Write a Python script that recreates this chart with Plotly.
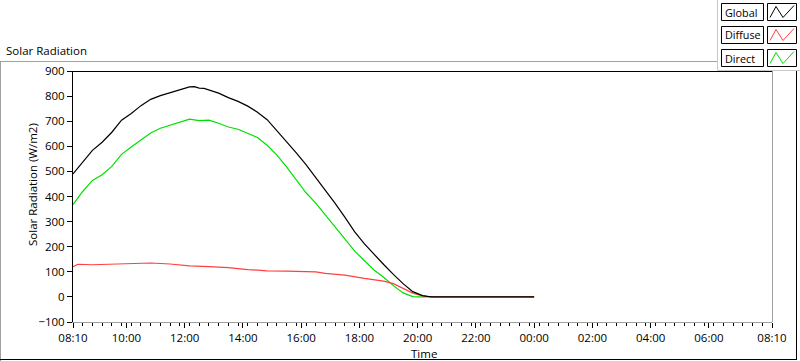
import plotly.graph_objects as go

# ---------------- data ----------------
global_times = ["08:10","08:30","08:50","09:10","09:30","09:50","10:10","10:30","10:50",
                "11:10","11:30","11:50","12:10","12:20","12:30","12:40","12:50","13:10",
                "13:30","13:50","14:10","14:30","14:50","15:10","15:30","15:50","16:10",
                "16:30","16:50","17:10","17:30","17:50","18:10","18:30","18:50","19:10",
                "19:30","19:50","20:10","20:20","20:30","00:00"]
global_vals = [490, 535, 584, 616, 656, 704, 731, 762, 787,
               802, 814, 828, 837, 838, 832, 831, 825, 812,
               794, 779, 760, 736, 706, 663, 619, 574, 527,
               476, 422, 373, 318, 260, 212, 169, 129, 90,
               53, 21, 5, 2, 0, 0]

direct_times = ["08:10","08:30","08:50","09:10","09:30","09:50","10:10","10:30","10:50",
                "11:10","11:30","11:50","12:10","12:30","12:50","13:10","13:30","13:50",
                "14:10","14:30","14:50","15:10","15:30","15:50","16:10","16:30","16:50",
                "17:10","17:30","17:50","18:10","18:30","18:50","19:10","19:30","19:50",
                "20:00","00:00"]
direct_vals = [368, 420, 464, 487, 520, 568, 597, 626, 653,
               672, 685, 698, 708, 702, 704, 692, 677, 668,
               653, 635, 604, 565, 518, 468, 415, 374, 326,
               278, 232, 183, 145, 107, 78, 45, 16, 1,
               0, 0]

diffuse_times = ["08:10","08:20","08:50","09:30","10:10","10:50","11:30","12:10","12:50",
                 "13:30","14:10","14:50","15:30","16:10","16:30","16:50","17:30","18:10",
                 "18:50","19:10","19:30","19:50","20:10","20:30","00:00"]
diffuse_vals = [120, 130, 128, 130, 133, 135, 131, 124, 121,
                117, 109, 104, 103, 101, 100, 94, 87, 74,
                63, 53, 35, 15, 4, 0, 0]

tick_labels = ["08:10","10:00","12:00","14:00","16:00","18:00","20:00","22:00",
               "00:00","02:00","04:00","06:00","08:10"]

title_text = "Solar Radiation"
y_title = "Solar Radiation (W/m2)"
x_title = "Time"
series_names = ["Global", "Diffuse", "Direct"]
series_colors = ["#000000", "#ff4040", "#00e000"]


def to_dt(hhmm):
    h = int(hhmm[:2])
    day = "2000-01-01" if h >= 8 else "2000-01-02"
    return f"{day} {hhmm}:00"


def tick_dt(i, lab):
    if i == len(tick_labels) - 1:
        return f"2000-01-02 {lab}:00"
    return to_dt(lab)


FONT = "Open Sans"

fig = go.Figure()
for name, times, vals, col in [("Direct", direct_times, direct_vals, series_colors[2]),
                               ("Diffuse", diffuse_times, diffuse_vals, series_colors[1]),
                               ("Global", global_times, global_vals, series_colors[0])]:
    fig.add_trace(go.Scatter(x=[to_dt(t) for t in times], y=vals, mode="lines",
                             name=name, line=dict(color=col, width=1.2),
                             showlegend=False))

# plot area in pixels
L, R, T, B = 73, 772, 71, 322
W, H = R - L, B - T


def xp(px):
    return (px - L) / W


def yp(py):
    return (B - py) / H


shapes = []
# plot border: top black, right gray
shapes.append(dict(type="line", xref="paper", yref="paper", x0=xp(73), x1=xp(772.5),
                   y0=yp(71.5), y1=yp(71.5), line=dict(color="#000000", width=1)))
shapes.append(dict(type="line", xref="paper", yref="paper", x0=xp(772.5), x1=xp(772.5),
                   y0=yp(71), y1=yp(322), line=dict(color="#a0a0a0", width=1)))
# outer frame
shapes.append(dict(type="line", xref="paper", yref="paper", x0=xp(0), x1=xp(717.5),
                   y0=yp(61.5), y1=yp(61.5), line=dict(color="#a0a0a0", width=1)))
shapes.append(dict(type="line", xref="paper", yref="paper", x0=xp(0.5), x1=xp(0.5),
                   y0=yp(61.5), y1=yp(361), line=dict(color="#a0a0a0", width=1)))
shapes.append(dict(type="line", xref="paper", yref="paper", x0=xp(0), x1=xp(797),
                   y0=yp(359.5), y1=yp(359.5), line=dict(color="#000000", width=1)))
shapes.append(dict(type="line", xref="paper", yref="paper", x0=xp(796.5), x1=xp(796.5),
                   y0=yp(70.5), y1=yp(360), line=dict(color="#000000", width=1)))
# legend panel border
shapes.append(dict(type="line", xref="paper", yref="paper", x0=xp(717.5), x1=xp(717.5),
                   y0=yp(0), y1=yp(70.5), line=dict(color="#c8c8c8", width=1)))
shapes.append(dict(type="line", xref="paper", yref="paper", x0=xp(717.5), x1=xp(800),
                   y0=yp(70.5), y1=yp(70.5), line=dict(color="#c8c8c8", width=1)))

annotations = []
legend_tops = [3.5, 26.5, 49.5]
for top, name, col in zip(legend_tops, series_names, series_colors):
    bot = top + 17
    shapes.append(dict(type="rect", xref="paper", yref="paper", x0=xp(721.5), x1=xp(763.5),
                       y0=yp(bot), y1=yp(top), line=dict(color="#000000", width=1),
                       fillcolor="#ffffff"))
    shapes.append(dict(type="rect", xref="paper", yref="paper", x0=xp(767.5), x1=xp(796.5),
                       y0=yp(bot), y1=yp(top), line=dict(color="#000000", width=1),
                       fillcolor="#ffffff"))
    pts = [(770, bot - 3), (776, top + 3), (783, bot - 3), (794, top + 2)]
    path = "M " + " L ".join(f"{xp(a)},{yp(b)}" for a, b in pts)
    shapes.append(dict(type="path", xref="paper", yref="paper", path=path,
                       line=dict(color=col, width=1)))
    annotations.append(dict(text=name, xref="paper", yref="paper", x=xp(723), y=yp(top + 8.5),
                            xanchor="left", yanchor="middle", showarrow=False,
                            font=dict(family=FONT, size=10.8, color="#000000")))

annotations.append(dict(text=title_text, xref="paper", yref="paper", x=xp(4), y=yp(50.5),
                        xanchor="left", yanchor="middle", showarrow=False,
                        font=dict(family=FONT, size=11.5, color="#000000")))
annotations.append(dict(text=y_title, xref="paper", yref="paper", x=xp(32), y=yp(185),
                        xanchor="center", yanchor="middle", showarrow=False, textangle=-90,
                        font=dict(family=FONT, size=11.5, color="#000000")))
annotations.append(dict(text=x_title, xref="paper", yref="paper", x=xp(424), y=yp(353),
                        xanchor="center", yanchor="middle", showarrow=False,
                        font=dict(family=FONT, size=11.5, color="#000000")))

fig.update_layout(
    width=800, height=361, autosize=False,
    margin=dict(l=L, r=800 - R, t=T, b=361 - B, pad=0),
    paper_bgcolor="#ffffff", plot_bgcolor="#ffffff",
    shapes=shapes, annotations=annotations, showlegend=False,
    font=dict(family=FONT, size=11, color="#000000"),
)
fig.update_xaxes(
    type="date",
    range=["2000-01-01 08:10:00", "2000-01-02 08:10:00"],
    tickmode="array",
    tickvals=[tick_dt(i, t) for i, t in enumerate(tick_labels)],
    ticktext=tick_labels,
    ticks="outside", ticklen=5, tickcolor="#000000", tickwidth=1,
    minor=dict(ticks="outside", ticklen=3, tickcolor="#000000", tickwidth=1,
               dtick=20 * 60 * 1000, tick0="2000-01-01 08:10:00", showgrid=False),
    showline=True, linecolor="#a0a0a0", linewidth=1,
    showgrid=False, zeroline=False, fixedrange=True,
    tickfont=dict(family=FONT, size=11.5, color="#000000"),
)
fig.update_yaxes(
    range=[-100, 900], tickmode="linear", tick0=0, dtick=100,
    ticks="outside", ticklen=5, tickcolor="#000000", tickwidth=1,
    showline=True, linecolor="#000000", linewidth=1,
    showgrid=False, zeroline=False,
    tickfont=dict(family=FONT, size=11.5, color="#000000"),
)

fig.write_html("out.html", config={"displayModeBar": False},
               post_script="document.body.style.margin='0';document.body.style.overflow='hidden';")
